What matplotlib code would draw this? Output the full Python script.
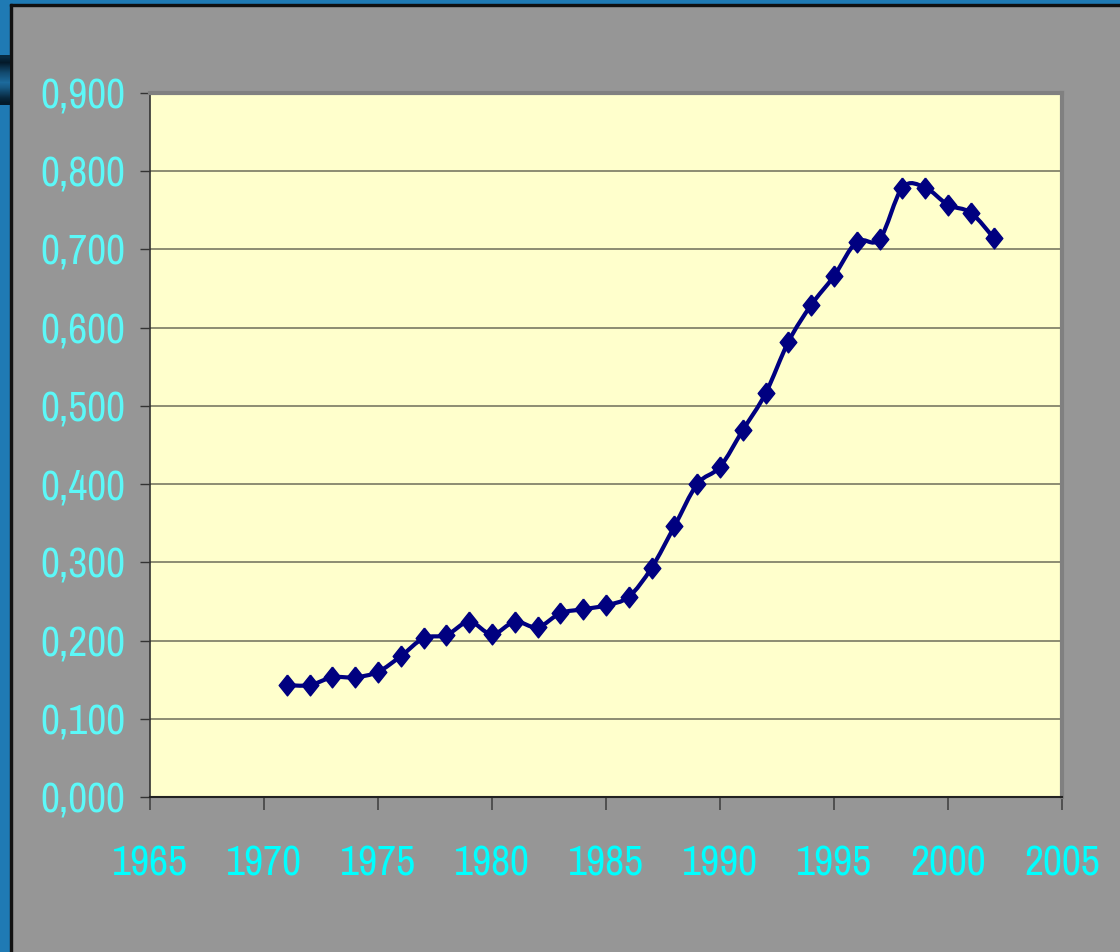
import numpy as np
import matplotlib
matplotlib.use("Agg")
import matplotlib.pyplot as plt
from matplotlib.path import Path
from matplotlib.patches import PathPatch, Rectangle

years = [1971, 1972, 1973, 1974, 1975, 1976, 1977, 1978, 1979, 1980,
         1981, 1982, 1983, 1984, 1985, 1986, 1987, 1988, 1989, 1990,
         1991, 1992, 1993, 1994, 1995, 1996, 1997, 1998, 1999, 2000,
         2001, 2002]
values = [0.143, 0.143, 0.153, 0.153, 0.160, 0.180, 0.203, 0.207, 0.224, 0.208,
          0.224, 0.217, 0.235, 0.240, 0.245, 0.256, 0.293, 0.346, 0.400, 0.422,
          0.469, 0.516, 0.582, 0.629, 0.666, 0.710, 0.713, 0.779, 0.779, 0.757,
          0.747, 0.715]
x_ticks = [1965, 1970, 1975, 1980, 1985, 1990, 1995, 2000, 2005]
y_ticks = [0.0, 0.1, 0.2, 0.3, 0.4, 0.5, 0.6, 0.7, 0.8, 0.9]
y_labels = ["0,000", "0,100", "0,200", "0,300", "0,400", "0,500", "0,600", "0,700", "0,800", "0,900"]

FONT = ["Archivo Narrow", "DejaVu Sans"]
W, H = 1120, 952
fig = plt.figure(figsize=(W / 100, H / 100), dpi=100, facecolor="#969696")

# slide frame (blue border and dark tab)
fig.patches.append(Rectangle((0, 0), 10 / W, 1, transform=fig.transFigure, color="#1F7AB4", zorder=0))
fig.patches.append(Rectangle((0, 1 - 4 / H), 1, 4 / H, transform=fig.transFigure, color="#1F7AB4", zorder=0))
fig.patches.append(Rectangle((10 / W, 0), 1.5 / W, 1 - 4 / H, transform=fig.transFigure, color="#111111", zorder=1))
fig.patches.append(Rectangle((10 / W, 1 - 5.5 / H), 1 - 10 / W, 1.5 / H, transform=fig.transFigure, color="#111111", zorder=1))
tab = fig.add_axes([0, 1 - 105 / H, 10 / W, 50 / H], zorder=5)
grad = np.array([0.2, 0.0, 0.3, 0.6, 0.8, 1.0, 0.8, 0.5, 0.2, 0.0]).reshape(-1, 1)
tab.imshow(grad, aspect="auto", interpolation="bilinear",
           cmap=matplotlib.colors.LinearSegmentedColormap.from_list("t", ["#041A2A", "#1C6A9C"]))
tab.axis("off")

ax = fig.add_axes([150 / W, 1 - 797 / H, 912 / W, 704 / H])
ax.set_facecolor("#FFFFCC")
ax.set_xlim(1965, 2005)
ax.set_ylim(0, 0.9)
ax.set_xticks(x_ticks)
ax.set_xticklabels([str(t) for t in x_ticks])
ax.set_yticks(y_ticks)
ax.set_yticklabels(y_labels)
for yv in y_ticks[1:-1]:
    ax.axhline(yv, color="#6E6E5A", lw=1.1, zorder=1)

for lab in ax.get_yticklabels():
    lab.set_family(FONT)
    lab.set_fontsize(30)
    lab.set_color("#5CF8F8")
for lab in ax.get_xticklabels():
    lab.set_family(FONT)
    lab.set_fontsize(30)
    lab.set_color("#00FFFF")
ax.tick_params(axis="y", direction="out", length=7.5, width=1.0, color="#333333", pad=10)
ax.tick_params(axis="x", direction="out", length=9, width=1.2, color="#444444", pad=25)

ax.spines["left"].set_color("#333333")
ax.spines["bottom"].set_color("#222222")
ax.spines["left"].set_linewidth(1.2)
ax.spines["bottom"].set_linewidth(1.5)
ax.spines["top"].set_color("#808080")
ax.spines["right"].set_color("#808080")
ax.spines["top"].set_linewidth(3)
ax.spines["right"].set_linewidth(3)

# smoothed line (Catmull-Rom as cubic Bezier segments)
pts = np.column_stack([years, values]).astype(float)
verts = [tuple(pts[0])]
codes = [Path.MOVETO]
n = len(pts)
for i in range(n - 1):
    p0 = pts[i - 1] if i > 0 else pts[i]
    p1 = pts[i]
    p2 = pts[i + 1]
    p3 = pts[i + 2] if i + 2 < n else pts[i + 1]
    c1 = p1 + (p2 - p0) / 6.0
    c2 = p2 - (p3 - p1) / 6.0
    verts += [tuple(c1), tuple(c2), tuple(p2)]
    codes += [Path.CURVE4, Path.CURVE4, Path.CURVE4]
ax.add_patch(PathPatch(Path(verts, codes), facecolor="none", edgecolor="#000080", lw=3.0, zorder=3))

diamond = [(0, 1), (0.8, 0), (0, -1), (-0.8, 0), (0, 1)]
ax.plot(years, values, linestyle="none", marker=diamond, markersize=15,
        color="#000080", zorder=4, clip_on=False)

fig.savefig("out.png", dpi=100, facecolor=fig.get_facecolor())
